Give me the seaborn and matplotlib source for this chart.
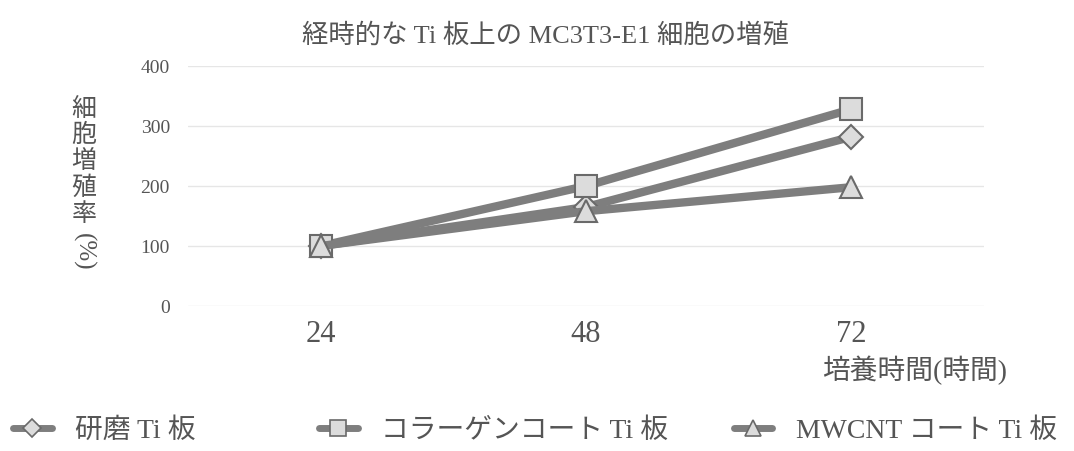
import matplotlib
matplotlib.use("Agg")
import matplotlib.pyplot as plt
import seaborn as sns
import pandas as pd
from matplotlib.lines import Line2D

# Culture time (hours) and proliferation (%) for each Ti plate
hours = [24, 48, 72]
series_names = ["研磨 Ti 板", "コラーゲンコート Ti 板", "MWCNT コート Ti 板"]
polished = [100, 165, 282]
collagen = [100, 200, 328]
mwcnt = [100, 158, 198]
y_ticks = [0, 100, 200, 300, 400]

title = "経時的な Ti 板上の MC3T3-E1 細胞の増殖"
x_label = "培養時間(時間)"
y_label_chars = ["細", "胞", "増", "殖", "率"]
y_label_tail = "(%)"

sns.set_theme(style="white")
FONT = ["Liberation Serif", "Noto Sans CJK JP"]
plt.rcParams["font.family"] = FONT
TEXT = "#555555"

df = pd.DataFrame({
    "hour": hours * 3,
    "rate": polished + collagen + mwcnt,
    "plate": sum([[n] * len(hours) for n in series_names], []),
})

fig = plt.figure(figsize=(10.74, 4.51), dpi=100)
ax = fig.add_axes([0.175, 0.3215, 0.741, 0.532])

markers = {series_names[0]: "D", series_names[1]: "s", series_names[2]: "^"}
sizes = {"D": 12, "s": 16, "^": 16}
line_gray = "#7e7e7e"
face = "#dcdcdc"
edge = "#6a6a6a"

for name in series_names:
    sub = df[df["plate"] == name]
    m = markers[name]
    sns.lineplot(data=sub, x="hour", y="rate", ax=ax, color=line_gray,
                 linewidth=6, marker=m, markersize=sizes[m],
                 markerfacecolor=face, markeredgecolor=edge,
                 markeredgewidth=1.5, legend=False, zorder=3)

ax.set_xlim(12, 84)
ax.set_ylim(0, 400)
ax.set_yticks(y_ticks)
ax.set_xticks(hours)
ax.set_xticklabels([str(h) for h in hours], fontsize=22, color=TEXT)
ax.set_yticklabels([str(t) for t in y_ticks], fontsize=14, color=TEXT)
ax.tick_params(axis="y", pad=13, length=0)
ax.tick_params(axis="x", pad=10, length=0)
for s in ax.spines.values():
    s.set_visible(False)
for t in y_ticks:
    ax.axhline(t, color="#e6e6e6", linewidth=1, zorder=0)
ax.set_xlabel("")
ax.set_ylabel("")

fig.text(0.508, 0.922, title, ha="center", va="center", fontsize=19, color=TEXT)
fig.text(0.765, 0.1796, x_label, ha="left", va="center", fontsize=20, color=TEXT)

# Vertical y-axis label: stacked upright characters, rotated parenthetical
for i, ch in enumerate(y_label_chars):
    fig.text(0.078, 0.757 - i * 0.058, ch, ha="center", va="center",
             fontsize=18, color=TEXT)
fig.text(0.078, 0.442, y_label_tail, ha="center", va="center",
         fontsize=18, color=TEXT, rotation=-90)

# Legend entries along the bottom edge
legend_x = [0.012, 0.297, 0.683]
for name, lx in zip(series_names, legend_x):
    m = markers[name]
    h = Line2D([0], [0], color=line_gray, linewidth=5, marker=m,
               markersize=sizes[m] * 0.75, markerfacecolor=face,
               markeredgecolor=edge, markeredgewidth=1.2)
    leg = fig.legend([h], [name], loc="center left", bbox_to_anchor=(lx, 0.045),
                     frameon=False, fontsize=20, handlelength=1.4,
                     handletextpad=0.85, borderaxespad=0, borderpad=0)
    for t in leg.get_texts():
        t.set_color(TEXT)

fig.savefig("out.png", dpi=100)
